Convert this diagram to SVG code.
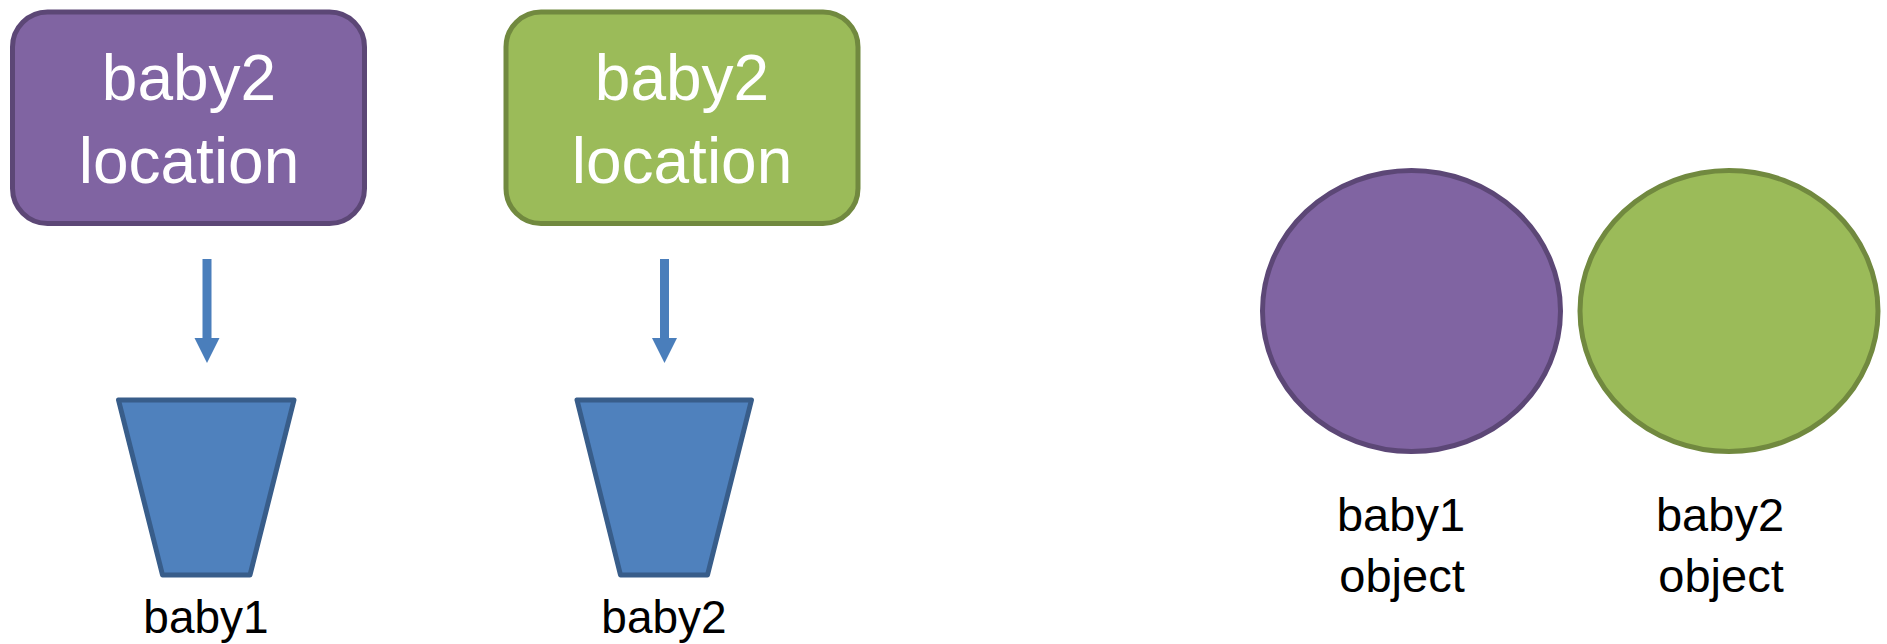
<svg xmlns="http://www.w3.org/2000/svg" width="1887" height="644" viewBox="0 0 1887 644">
  <style>
    .purple { fill: #8064a2; stroke: #5c4776; stroke-width: 5; }
    .green { fill: #9bbb59; stroke: #71893f; stroke-width: 5; }
    .bucket { fill: #4f81bd; stroke: #385d8a; stroke-width: 5; stroke-linejoin: round; }
    .arrow { fill: #4a7ebb; }
    .boxtext { font-family: "Liberation Sans", Arial, sans-serif; font-size: 64px; fill: #ffffff; text-anchor: middle; }
    .label { font-family: "Liberation Sans", Arial, sans-serif; fill: #000000; }
  </style>
  <rect width="1887" height="644" fill="#ffffff"/>

  <g id="loc-purple">
    <rect class="purple" x="12.5" y="12" width="352" height="211.5" rx="35" ry="35"/>
    <text class="boxtext" x="189" y="100">baby2</text>
    <text class="boxtext" x="189" y="183">location</text>
  </g>

  <g id="loc-green">
    <rect class="green" x="506" y="12" width="352" height="211.5" rx="35" ry="35"/>
    <text class="boxtext" x="682" y="100">baby2</text>
    <text class="boxtext" x="682" y="183">location</text>
  </g>

  <g id="connectors">
    <path class="arrow" d="M202.5,259 H211.5 V338 H219.5 L207,363 L194.5,338 H202.5 Z"/>
    <path class="arrow" d="M660,259 H669 V338 H677 L664.5,363 L652,338 H660 Z"/>
  </g>

  <g id="bucket-baby1">
    <polygon class="bucket" points="118.5,400 294,400 250,575 162.5,575"/>
    <text class="label" x="206" y="633" font-size="46" text-anchor="middle">baby1</text>
  </g>

  <g id="bucket-baby2">
    <polygon class="bucket" points="577,400 751.5,400 707.5,575 620.5,575"/>
    <text class="label" x="664" y="633" font-size="46" text-anchor="middle">baby2</text>
  </g>

  <g id="obj-baby1">
    <ellipse class="purple" cx="1411.5" cy="311" rx="149" ry="140.5"/>
    <text class="label" x="1401" y="531" font-size="47" text-anchor="middle">baby1</text>
    <text class="label" x="1402" y="592" font-size="47" text-anchor="middle">object</text>
  </g>

  <g id="obj-baby2">
    <ellipse class="green" cx="1729" cy="311" rx="149" ry="140.5"/>
    <text class="label" x="1720" y="531" font-size="47" text-anchor="middle">baby2</text>
    <text class="label" x="1721" y="592" font-size="47" text-anchor="middle">object</text>
  </g>
</svg>
